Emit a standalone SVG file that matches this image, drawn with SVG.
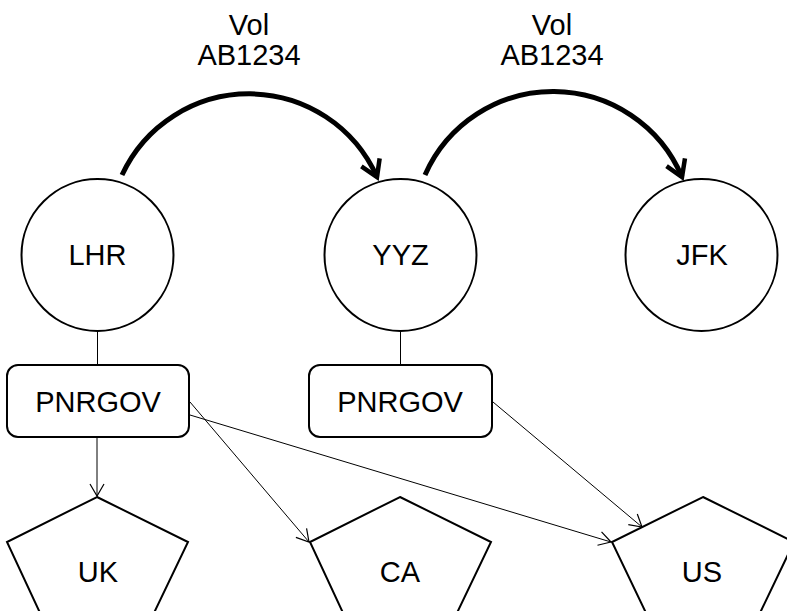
<svg xmlns="http://www.w3.org/2000/svg" width="787" height="611" viewBox="0 0 787 611">
  <style>
    text { font-family: "Liberation Sans", Arial, sans-serif; font-size: 29px; fill: #000; text-anchor: middle; }
    .airport { fill: #fff; stroke: #000; stroke-width: 2; }
    .box { fill: #fff; stroke: #000; stroke-width: 2; }
    .country { fill: #fff; stroke: #000; stroke-width: 2; }
    .link { fill: none; stroke: #000; stroke-width: 1; }
    .flight { fill: none; stroke: #000; stroke-width: 5; }
  </style>
  <defs>
    <marker id="open" markerUnits="userSpaceOnUse" markerWidth="20" markerHeight="20" refX="14" refY="8" orient="auto">
      <path d="M2,1 L14,8 L2,15" fill="none" stroke="#000" stroke-width="1.2"/>
    </marker>
    <marker id="openBold" markerUnits="userSpaceOnUse" markerWidth="30" markerHeight="30" refX="20" refY="13" orient="auto">
      <path d="M4,3 L20,13 L4,23" fill="none" stroke="#000" stroke-width="4.5"/>
    </marker>
  </defs>

  <!-- connectors -->
  <g id="connectors">
    <path class="flight" d="M122,175 A140,140 0 0 1 377,177" marker-end="url(#openBold)"/>
    <path class="flight" d="M425,175 A140,140 0 0 1 682,177" marker-end="url(#openBold)"/>
    <line class="link" x1="97.5" y1="331" x2="97.5" y2="364"/>
    <line class="link" x1="400.5" y1="331" x2="400.5" y2="364"/>
    <line class="link" x1="97" y1="437" x2="97" y2="496" marker-end="url(#open)"/>
    <line class="link" x1="190" y1="402" x2="309" y2="542" marker-end="url(#open)"/>
    <line class="link" x1="190" y1="415" x2="611" y2="542" stroke-width="1.6" marker-end="url(#open)"/>
    <line class="link" x1="493" y1="402" x2="642" y2="527" marker-end="url(#open)"/>
  </g>

  <!-- flight labels -->
  <g id="label-flight-1">
    <text x="249" y="35">Vol</text>
    <text x="249" y="65">AB1234</text>
  </g>
  <g id="label-flight-2">
    <text x="552" y="35">Vol</text>
    <text x="552" y="65">AB1234</text>
  </g>

  <!-- airports -->
  <g id="LHR">
    <circle class="airport" cx="97.5" cy="255" r="76"/>
    <text x="97.5" y="265">LHR</text>
  </g>
  <g id="YYZ">
    <circle class="airport" cx="400.5" cy="255" r="76"/>
    <text x="400.5" y="265">YYZ</text>
  </g>
  <g id="JFK">
    <circle class="airport" cx="701.5" cy="255" r="76"/>
    <text x="702" y="265">JFK</text>
  </g>

  <!-- PNRGOV boxes -->
  <g id="PNRGOV-LHR">
    <rect class="box" x="7" y="365" width="182" height="72" rx="11"/>
    <text x="98" y="412">PNRGOV</text>
  </g>
  <g id="PNRGOV-YYZ">
    <rect class="box" x="309" y="365" width="183" height="72" rx="11"/>
    <text x="400" y="412">PNRGOV</text>
  </g>

  <!-- countries -->
  <g id="UK">
    <polygon class="country" points="97,497 188,542 153,615 41,615 7,542"/>
    <text x="98" y="582">UK</text>
  </g>
  <g id="CA">
    <polygon class="country" points="400,497 491,542 456,615 344,615 310,542"/>
    <text x="400" y="582">CA</text>
  </g>
  <g id="US">
    <polygon class="country" points="703,497 794,542 759,615 647,615 612,542"/>
    <text x="702" y="582">US</text>
  </g>
</svg>
